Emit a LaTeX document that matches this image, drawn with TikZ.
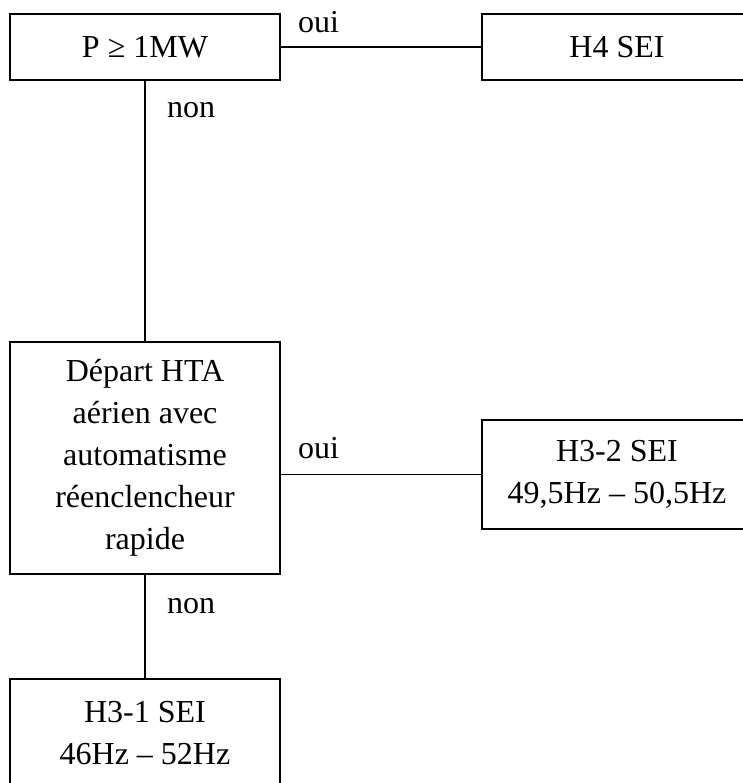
\documentclass[tikz,border=0pt]{standalone}
\usepackage{fontspec}
\setmainfont{Liberation Serif}
\begin{document}
\begin{tikzpicture}[x=1pt,y=-1pt,
  box/.style={draw,line width=1.5pt,rectangle,inner sep=0pt,align=center,
    font=\fontsize{32}{42}\selectfont},
  lbl/.style={anchor=base west,inner sep=0pt,font=\fontsize{32}{42}\selectfont},
  conn/.style={line width=1.5pt}]
\useasboundingbox (0,0) rectangle (742,783);
\node[box,minimum width=270pt,minimum height=66pt] (b1) at (145,47) {P ≥ 1MW};
\node[box,minimum width=270pt,minimum height=66pt] (h4) at (617,47) {H4 SEI};
\node[box,minimum width=270pt,minimum height=232pt] (b2) at (145,458) {Départ HTA\\aérien avec\\automatisme\\réenclencheur\\rapide};
\node[box,minimum width=270pt,minimum height=109pt] (h32) at (617,474.5) {H3-2 SEI\\49,5Hz – 50,5Hz};
\node[box,minimum width=270pt,minimum height=108pt] (h31) at (145,733) {H3-1 SEI\\46Hz – 52Hz};
\draw[conn] (b1.east) -- (h4.west);
\draw[conn] (b1.south) -- (b2.north);
\draw[conn] (h32.west -| b2.east) -- (h32.west);
\draw[conn] (b2.south) -- (h31.north);
\node[lbl] (oui1) at (298,33) {oui};
\node[lbl] (non1) at (167,118) {non};
\node[lbl] (oui2) at (298,458) {oui};
\node[lbl] (non2) at (167,613) {non};
\end{tikzpicture}
\end{document}
